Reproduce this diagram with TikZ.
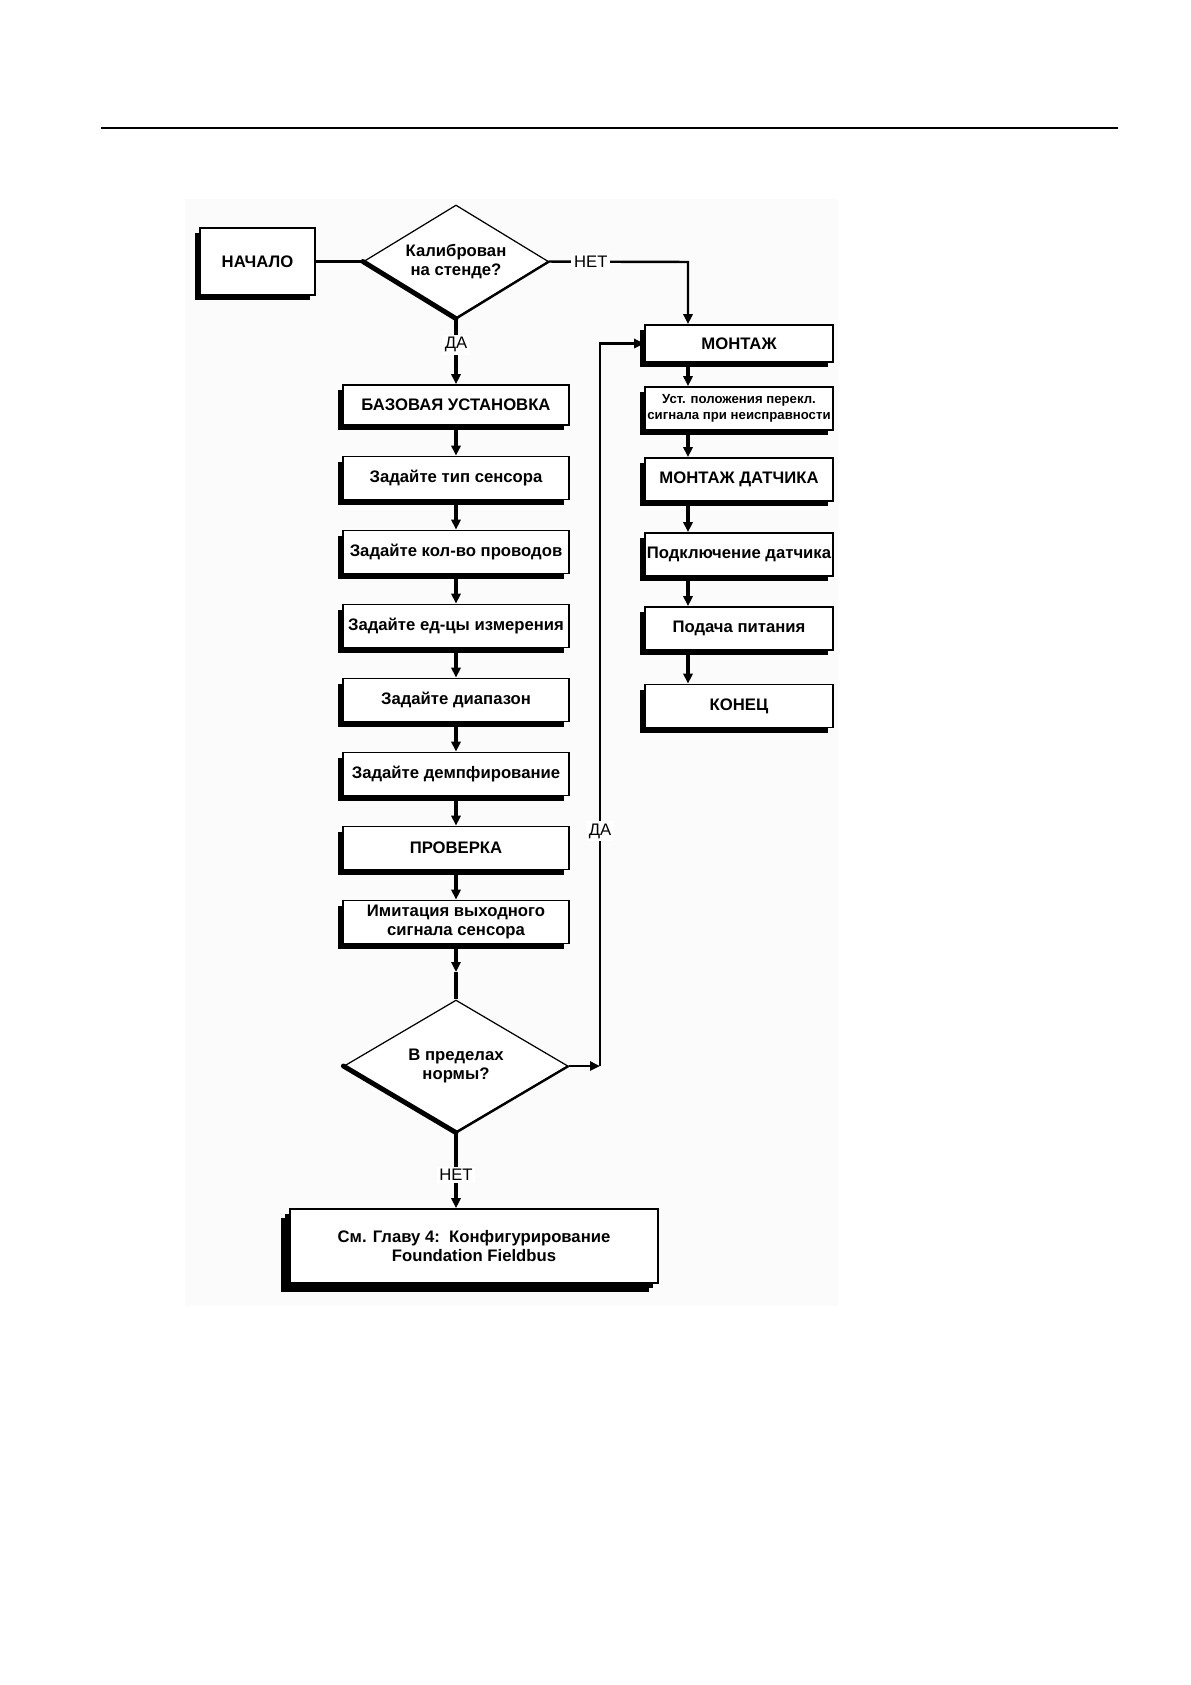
\documentclass[tikz,border=0pt]{standalone}
\usepackage{fontspec}
\setmainfont{Liberation Sans}
\usetikzlibrary{shapes.geometric,arrows.meta,shadows}

\tikzset{
  box/.style={draw=black, line width=0.9pt, fill=white, inner sep=1pt, align=center,
    font=\fontsize{9.5}{11}\selectfont\bfseries,
    drop shadow={shadow xshift=-0.1cm, shadow yshift=-0.1cm, fill=black, opacity=1}},
  lbox/.style={box, minimum width=4.52cm, minimum height=0.86cm},
  rbox/.style={box, minimum width=3.76cm, minimum height=0.86cm},
  decision/.style={diamond, draw=black, line width=0.7pt, fill=white, inner sep=0pt,
    align=center, font=\fontsize{9.5}{10.5}\selectfont\bfseries},
  conn/.style={line width=1.4pt, -{Triangle[length=0.2cm,width=0.18cm]}},
  flow/.style={conn, line width=2.2pt},
  lbl/.style={fill=white, inner sep=1.5pt, font=\fontsize{9.5}{11}\selectfont},
}

\begin{document}
\begin{tikzpicture}[x=0.02cm, y=-0.02cm]
  \useasboundingbox (0,0) rectangle (1191,1685);
  \fill[black!1.5] (185,199) rectangle (838,1306);
  \draw[line width=1pt] (101,128) -- (1118,128);

  \node[box, minimum width=2.3cm, minimum height=1.34cm] (start) at (257.5,261.5) {НАЧАЛО};
  \node[decision, minimum width=3.7cm, minimum height=2.26cm, aspect=1.64] (cal) at (456,261.5) {Калиброван\\на стенде?};

  % left column
  \node[lbox, minimum height=0.8cm] (bas) at (456,405) {БАЗОВАЯ УСТАНОВКА};
  \node[lbox] (tip) at (456,478) {Задайте тип сенсора};
  \node[lbox] (kol) at (456,552) {Задайте кол-во проводов};
  \node[lbox] (ed) at (456,626) {Задайте ед-цы измерения};
  \node[lbox] (diap) at (456,700) {Задайте диапазон};
  \node[lbox] (demp) at (456,774) {Задайте демпфирование};
  \node[lbox] (prov) at (456,848) {ПРОВЕРКА};
  \node[lbox] (imit) at (456,922) {Имитация выходного\\сигнала сенсора};
  \node[decision, minimum width=4.48cm, minimum height=2.64cm, aspect=1.7] (norm) at (456,1066) {В пределах\\нормы?};
  \node[box, minimum width=7.36cm, minimum height=1.48cm,
    drop shadow={shadow xshift=-0.18cm, shadow yshift=-0.17cm, fill=black, opacity=1}] (fin) at (474,1246)
    {См. Главу 4:~~Конфигурирование\\Foundation Fieldbus};

  % right column
  \node[rbox, minimum height=0.74cm] (mont) at (739,343.5) {МОНТАЖ};
  \node[rbox, font=\fontsize{7.5}{9}\selectfont\bfseries] (ust) at (739,408.5) {Уст. положения перекл.\\сигнала при неисправности};
  \node[rbox] (mdat) at (739,479.5) {МОНТАЖ ДАТЧИКА};
  \node[rbox] (podk) at (739,554.5) {Подключение датчика};
  \node[rbox] (pod) at (739,628.5) {Подача питания};
  \node[rbox] (kon) at (739,706) {КОНЕЦ};

  \coordinate (rcol) at (688,262);
  \coordinate (jn) at (600,1066);
  \coordinate (mid) at (456,972);

  % heavy lower edges of the diamonds
  \foreach \d in {cal, norm} {
    \draw[line width=2.8pt, line cap=round] (\d.west) -- (\d.south);
    \draw[line width=1.3pt] (\d.south) -- (\d.east);
  }

  \draw[line width=1.4pt] (start.east) -- (cal.west);
  \draw[conn] (cal.east) -- node[lbl, pos=0.3] {НЕТ} (rcol) -- (rcol |- mont.north);
  \draw[flow] (cal.south) -- node[lbl, pos=0.4] {ДА} (bas.north);
  \foreach \a/\b in {bas/tip, tip/kol, kol/ed, ed/diap, diap/demp, demp/prov, prov/imit}
    \draw[flow] (\a.south) -- (\b.north);
  \draw[flow] (imit.south) -- (mid);
  \draw[line width=2.2pt] (mid) -- (norm.north);
  \draw[flow] (norm.south) -- node[lbl, pos=0.56] {НЕТ} (norm.south |- fin.north);
  \draw[conn] (norm.east) -- (jn);
  \draw[conn] (jn) -- node[lbl, pos=0.325] {ДА} (jn |- mont.west) -- (mont.west);
  \foreach \a/\b in {mont/ust, ust/mdat, mdat/podk, podk/pod, pod/kon}
    \draw[flow] (\a.south -| rcol) -- (\b.north -| rcol);
\end{tikzpicture}
\end{document}
